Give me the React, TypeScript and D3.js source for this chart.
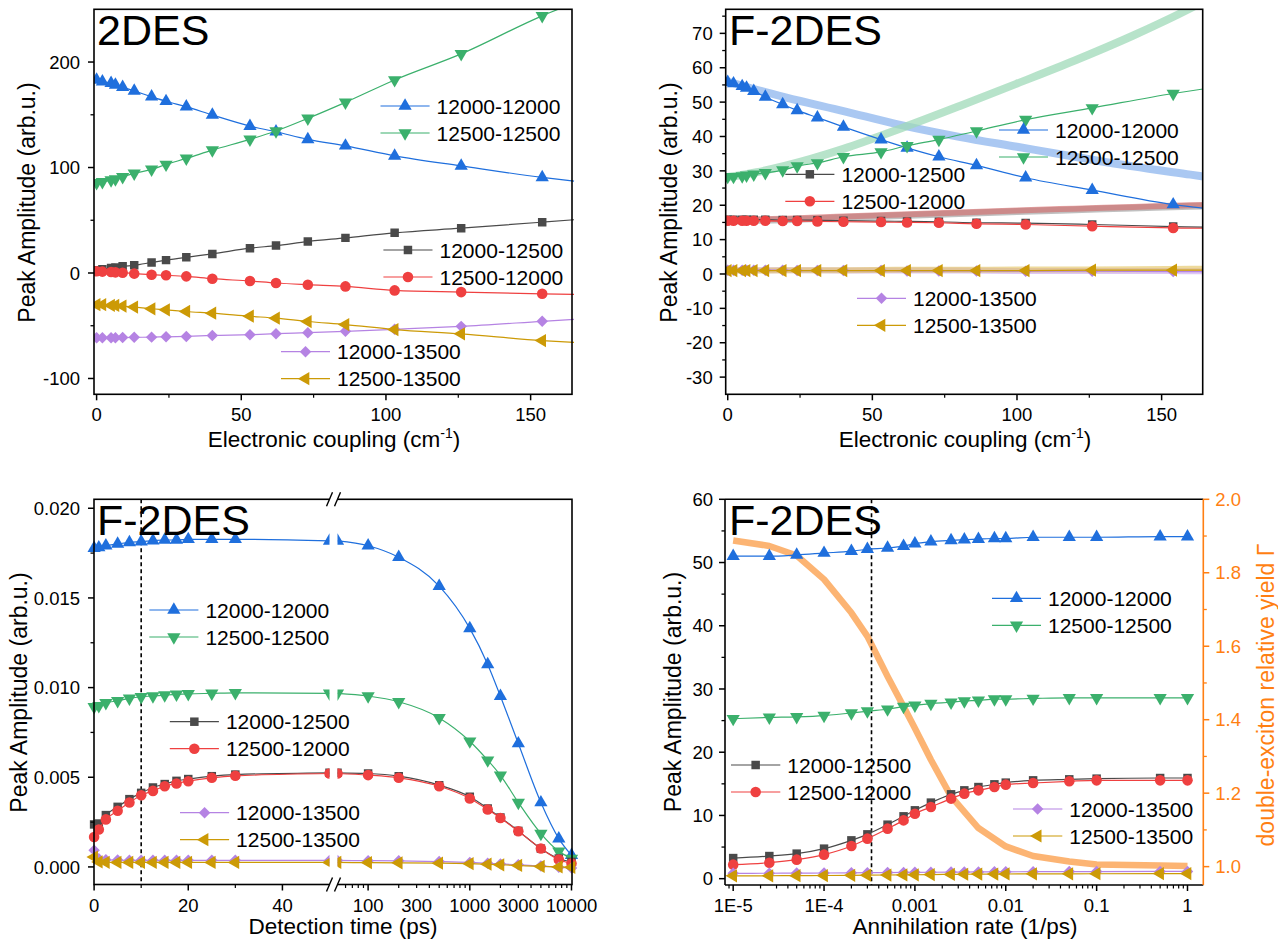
import React from 'react';
import * as d3 from 'd3';

const FONT = '"Liberation Sans", Arial, Helvetica, sans-serif';
const ORANGE = '#ff7f12';

// ---------- top panels: peak amplitude vs electronic coupling ----------
const couplingX = [0, 2, 5, 6.5, 9, 13, 19, 24, 31, 40, 53, 62, 73, 86, 103, 126, 154];
const couplingEdge = 165; // the fitted lines run on to the frame
const couplingLineX = [...couplingX, couplingEdge];

// 2DES (last value = line at frame edge)
const des_12000_12000 = [183, 181.4, 179.9, 178.3, 176.1, 172.6, 167.1, 162.8, 157.7, 149.8, 139.3, 133.9, 126.7, 120.6, 111.1, 101.6, 90.6, 87.1];
const des_12500_12500 = [85.5, 86.4, 88, 89, 91.2, 94.4, 98.2, 102.9, 108.6, 116.5, 126.7, 134.6, 146.6, 161.8, 183, 207.7, 243.8, 256];
const des_12000_12500 = [2.5, 3.5, 4.7, 5.3, 6.3, 7.3, 10.0, 12.2, 14.9, 18.1, 23.5, 26.0, 29.8, 33.3, 38.1, 42.5, 48.2, 50.5];
const des_12500_12000 = [1.6, 1.3, 1.0, 0.6, 0.3, -0.6, -1.6, -2.2, -3.2, -5.4, -7.6, -9.5, -11.1, -12.7, -16.5, -18.1, -19.7, -20.3];
const des_12000_13500 = [-61.4, -61.4, -61.4, -61.4, -61.2, -61.0, -60.8, -60.5, -60.1, -59.2, -58.5, -57.5, -56.6, -55.3, -53.4, -50.6, -45.8, -43.9];
const des_12500_13500 = [-30.1, -30.1, -30.7, -30.7, -31.4, -32.3, -33.9, -34.9, -36.5, -38.1, -41.0, -42.8, -46.0, -48.9, -53.6, -57.7, -64.1, -65.7];

// F-2DES
const fdes_12000_12000 = [55.8, 55.4, 54.6, 54.1, 53.2, 51.5, 49.3, 47.6, 45.5, 42.8, 39.1, 36.7, 34.1, 31.6, 28.0, 24.4, 20.2, 19.1];
const fdes_12500_12500 = [28.3, 28.3, 28.5, 28.7, 29.0, 29.4, 30.2, 31.4, 32.3, 34.1, 35.5, 37.3, 39.1, 41.6, 44.9, 48.3, 52.5, 53.9];
const fdes_12000_12500 = [15.8, 15.8, 15.8, 15.8, 15.8, 15.8, 15.7, 15.7, 15.6, 15.5, 15.4, 15.3, 15.2, 14.9, 14.8, 14.4, 13.8, 13.6];
const fdes_12500_12000 = [15.5, 15.5, 15.5, 15.5, 15.5, 15.5, 15.4, 15.4, 15.3, 15.2, 15.1, 15.0, 14.9, 14.6, 14.4, 13.9, 13.4, 13.3];
const fdes_12000_13500 = [1.1, 1.1, 1.1, 1.1, 1.1, 1.1, 1.1, 1.0, 1.0, 1.0, 1.0, 0.9, 0.9, 0.9, 0.8, 0.8, 0.7, 0.7];
const fdes_12500_13500 = [1.0, 1.0, 1.0, 1.0, 1.0, 1.0, 1.0, 1.0, 1.0, 1.0, 1.0, 1.0, 1.0, 1.0, 1.0, 1.1, 1.1, 1.1];

// broad reference curves in the F-2DES panel
const bandX = [0, 10, 20, 40, 60, 80, 100, 120, 140, 160, 165];
const band_12000_12000 = [56, 53.6, 51.4, 47.4, 43.3, 39.9, 37.0, 34.1, 31.3, 28.9, 28.3];
const band_12500_12500 = [28.2, 29.6, 31.5, 36.4, 42.4, 48.8, 55.4, 62.1, 69.3, 77.3, 79.5];
const band_12000_12500 = [15.4, 15.6, 15.8, 16.4, 17.0, 17.6, 18.2, 18.7, 19.2, 19.7, 19.8];
const band_12500_12000 = [15.7, 15.9, 16.1, 16.7, 17.3, 17.9, 18.5, 19.0, 19.5, 20.0, 20.1];
const band_12000_13500 = [1.1, 1.1, 1.1, 1.0, 1.0, 1.0, 0.9, 0.9, 0.9, 0.8, 0.8];
const band_12500_13500 = [1.0, 1.0, 1.1, 1.1, 1.2, 1.2, 1.3, 1.3, 1.4, 1.5, 1.5];

// ---------- bottom-left: vs detection time ----------
const timeX = [0, 1, 2.5, 5, 7.5, 10, 12.5, 15, 17.5, 20, 25, 30, 50, 100, 200, 500, 1000, 1500, 2000, 3000, 5000, 7500, 10000];
const time_12000_12000 = [0.01777, 0.01781, 0.01791, 0.01801, 0.0181, 0.01814, 0.01819, 0.01823, 0.01823, 0.01827, 0.01827, 0.01827, 0.01818, 0.01791, 0.01727, 0.01566, 0.0133, 0.01129, 0.00952, 0.00688, 0.00359, 0.00158, 0.00065];
const time_12500_12500 = [0.00893, 0.00898, 0.00915, 0.00926, 0.0094, 0.00949, 0.00953, 0.00958, 0.00962, 0.00965, 0.00968, 0.00971, 0.00968, 0.00953, 0.00921, 0.00831, 0.00701, 0.00595, 0.00511, 0.00359, 0.00186, 0.00087, 0.00047];
const time_12000_12500 = [0.00237, 0.00242, 0.00289, 0.00335, 0.00378, 0.00413, 0.00443, 0.00462, 0.0048, 0.0049, 0.00506, 0.00515, 0.00525, 0.00521, 0.00506, 0.00456, 0.00391, 0.00326, 0.00276, 0.00201, 0.00102, 0.00047, 0.00028];
const time_12500_12000 = [0.00167, 0.00209, 0.00265, 0.00313, 0.00359, 0.004, 0.00424, 0.0045, 0.00465, 0.00478, 0.00497, 0.00508, 0.00521, 0.00512, 0.00497, 0.0045, 0.00382, 0.0032, 0.00273, 0.00199, 0.00103, 0.00041, 0.00019];
const time_12000_13500 = [0.00093, 0.00045, 0.0004, 0.00038, 0.00037, 0.00037, 0.00037, 0.00037, 0.00037, 0.00037, 0.00037, 0.00037, 0.00036, 0.00035, 0.00034, 0.0003, 0.00025, 0.0002, 0.00017, 0.00012, 0.00005, -0.00002, -0.00006];
const time_12500_13500 = [0.00055, 0.00028, 0.00026, 0.00025, 0.00025, 0.00025, 0.00025, 0.00025, 0.00025, 0.00025, 0.00025, 0.00025, 0.00025, 0.00024, 0.00023, 0.00021, 0.00018, 0.00015, 0.00012, 0.00008, 0.00003, 0.0, -0.00002];

// ---------- bottom-right: vs annihilation rate ----------
const rateX = [1e-5, 2.5e-5, 5e-5, 1e-4, 2e-4, 3e-4, 5e-4, 7.5e-4, 1e-3, 1.5e-3, 2.5e-3, 3.5e-3, 5e-3, 7.5e-3, 1e-2, 2e-2, 5e-2, 0.1, 0.5, 1];
const rate_12000_12000 = [51.0, 51.0, 51.2, 51.5, 51.8, 52.1, 52.3, 52.6, 53.0, 53.3, 53.5, 53.6, 53.7, 53.8, 53.8, 54.0, 54.0, 54.0, 54.1, 54.1];
const rate_12500_12500 = [25.3, 25.5, 25.6, 25.8, 26.2, 26.5, 26.8, 27.2, 27.4, 27.7, 27.9, 28.1, 28.2, 28.4, 28.4, 28.5, 28.6, 28.6, 28.6, 28.6];
const rate_12000_12500 = [3.26, 3.58, 3.96, 4.75, 6.06, 7.01, 8.54, 9.86, 10.81, 12.03, 13.34, 13.97, 14.49, 14.92, 15.19, 15.55, 15.71, 15.82, 15.92, 15.92];
const rate_12500_12000 = [2.22, 2.53, 3.01, 3.8, 5.16, 6.33, 7.91, 9.22, 10.28, 11.33, 12.66, 13.45, 13.97, 14.49, 14.87, 15.13, 15.4, 15.55, 15.55, 15.55];
const rate_12000_13500 = [0.85, 0.86, 0.88, 0.9, 0.93, 0.95, 0.97, 0.99, 1.0, 1.02, 1.04, 1.05, 1.07, 1.08, 1.09, 1.1, 1.12, 1.13, 1.14, 1.15];
const rate_12500_13500 = [0.45, 0.46, 0.48, 0.5, 0.53, 0.55, 0.58, 0.6, 0.62, 0.65, 0.68, 0.7, 0.72, 0.73, 0.74, 0.76, 0.77, 0.78, 0.8, 0.8];
const yieldRateX = [1e-5, 2.5e-5, 5e-5, 1e-4, 2e-4, 3e-4, 5e-4, 7.5e-4, 1e-3, 1.5e-3, 2.5e-3, 5e-3, 1e-2, 2e-2, 5e-2, 0.1, 0.5, 1];
const yieldGamma = [1.888, 1.873, 1.847, 1.782, 1.691, 1.627, 1.518, 1.436, 1.377, 1.291, 1.191, 1.105, 1.055, 1.029, 1.014, 1.006, 1.003, 1.002];

const peaks = ['12000-12000', '12500-12500', '12000-12500', '12500-12000', '12000-13500', '12500-13500'];

const STYLE: Record<string, { color: string; kind: string }> = {
  '12000-12000': { color: '#1f6fdd', kind: 'up' },
  '12500-12500': { color: '#3bb06c', kind: 'down' },
  '12000-12500': { color: '#4a4a4a', kind: 'square' },
  '12500-12000': { color: '#ef4040', kind: 'circle' },
  '12000-13500': { color: '#b583e3', kind: 'diamond' },
  '12500-13500': { color: '#cc9a06', kind: 'left' },
};

const SYM: Record<string, { d: string; rot: number }> = {
  up: { d: d3.symbol(d3.symbolTriangle, 76)() as string, rot: 0 },
  down: { d: d3.symbol(d3.symbolTriangle, 76)() as string, rot: 180 },
  left: { d: d3.symbol(d3.symbolTriangle, 76)() as string, rot: -90 },
  square: { d: d3.symbol(d3.symbolSquare, 72)() as string, rot: 0 },
  circle: { d: d3.symbol(d3.symbolCircle, 88)() as string, rot: 0 },
  diamond: { d: d3.symbol(d3.symbolSquare, 66)() as string, rot: 45 },
};

function Marker({ x, y, peak }: any) {
  const s = STYLE[peak];
  const m = SYM[s.kind];
  return <path d={m.d} transform={`translate(${x},${y}) rotate(${m.rot})`} fill={s.color} />;
}

function Series({ xs, ys, x, y, peak, nMarks, clip }: any) {
  const pts: [number, number][] = xs.map((v: number, i: number) => [x(v), y(ys[i])]);
  const d = d3.line().curve(d3.curveMonotoneX)(pts) as string;
  const n = nMarks ?? pts.length;
  return (
    <g clipPath={clip}>
      <path d={d} fill="none" stroke={STYLE[peak].color} strokeWidth={1.2} />
      {pts.slice(0, n).map(([px, py], i) => <Marker key={i} x={px} y={py} peak={peak} />)}
    </g>
  );
}

function Legend({ x1, x2, y, rows }: any) {
  return (
    <g>
      {rows.map((p: string, i: number) => {
        const yy = y + i * 27;
        return (
          <g key={p}>
            <line x1={x1} x2={x2} y1={yy} y2={yy} stroke={STYLE[p].color} strokeWidth={1.2} />
            <Marker x={(x1 + x2) / 2} y={yy} peak={p} />
            <text x={x2 + 7} y={yy} dy="0.36em" fontSize={21}>{p}</text>
          </g>
        );
      })}
    </g>
  );
}

function LeftAxis({ scale, x, major, minor, fmt, color = '#000', gap = 13 }: any) {
  return (
    <g>
      {major.map((v: number) => (
        <g key={'M' + v}>
          <line x1={x - 6} x2={x} y1={scale(v)} y2={scale(v)} stroke={color} strokeWidth={1.5} />
          <text x={x - gap} y={scale(v)} dy="0.36em" textAnchor="end" fontSize={18.5} fill={color}>{fmt(v)}</text>
        </g>
      ))}
      {minor.map((v: number) => <line key={'m' + v} x1={x - 3.5} x2={x} y1={scale(v)} y2={scale(v)} stroke={color} strokeWidth={1.3} />)}
    </g>
  );
}

function RightAxis({ scale, x, major, minor, fmt, color }: any) {
  return (
    <g>
      {major.map((v: number) => (
        <g key={'M' + v}>
          <line x1={x} x2={x + 6} y1={scale(v)} y2={scale(v)} stroke={color} strokeWidth={1.5} />
          <text x={x + 12} y={scale(v)} dy="0.36em" fontSize={18.5} fill={color}>{fmt(v)}</text>
        </g>
      ))}
      {minor.map((v: number) => <line key={'m' + v} x1={x} x2={x + 3.5} y1={scale(v)} y2={scale(v)} stroke={color} strokeWidth={1.3} />)}
    </g>
  );
}

function BottomAxis({ scale, y, major, minor, labels, fmt }: any) {
  return (
    <g>
      {major.map((v: number) => <line key={'M' + v} x1={scale(v)} x2={scale(v)} y1={y} y2={y + 6} stroke="#000" strokeWidth={1.5} />)}
      {minor.map((v: number) => <line key={'m' + v} x1={scale(v)} x2={scale(v)} y1={y} y2={y + 3.5} stroke="#000" strokeWidth={1.2} />)}
      {labels.map((v: number) => (
        <text key={'L' + v} x={scale(v)} y={y + 27} textAnchor="middle" fontSize={18.5}>{fmt(v)}</text>
      ))}
    </g>
  );
}

function YTitle({ x, y, children, color = '#000' }: any) {
  return (
    <text transform={`translate(${x},${y}) rotate(-90)`} textAnchor="middle" dy="0.36em" fontSize={23} fill={color}>{children}</text>
  );
}

function CouplingTitle({ x }: any) {
  return (
    <text x={x} y={447} textAnchor="middle" fontSize={22.5}>
      Electronic coupling (cm<tspan dy={-9} fontSize={14}>-1</tspan><tspan dy={9}>)</tspan>
    </text>
  );
}

const box = (l: number, t: number, r: number, b: number) => ({ l, t, r, b });

function Panel1() {
  const f = box(94, 9.3, 572, 394.3);
  const x = d3.scaleLinear().domain([-0.9, 164.3]).range([f.l, f.r]);
  const y = d3.scaleLinear().domain([-115, 250]).range([f.b, f.t]);
  const data = [des_12000_12000, des_12500_12500, des_12000_12500, des_12500_12000, des_12000_13500, des_12500_13500];
  return (
    <g>
      <clipPath id="c1"><rect x={f.l} y={f.t} width={f.r - f.l + 8} height={f.b - f.t} /></clipPath>
      {data.map((ys, i) => (
        <Series key={i} xs={couplingLineX} ys={ys} x={x} y={y} peak={peaks[i]} nMarks={couplingX.length} clip="url(#c1)" />
      ))}
      <rect x={f.l} y={f.t} width={f.r - f.l} height={f.b - f.t} fill="none" stroke="#000" strokeWidth={1.6} />
      <LeftAxis scale={y} x={f.l} major={[-100, 0, 100, 200]} minor={[-50, 50, 150]} fmt={(v: number) => String(v)} gap={14} />
      <BottomAxis scale={x} y={f.b} major={[0, 50, 100, 150]} minor={[25, 75, 125]} labels={[0, 50, 100, 150]} fmt={(v: number) => String(v)} />
      <Legend x1={380.5} x2={429.6} y={106} rows={peaks.slice(0, 2)} />
      <Legend x1={383.4} x2={432.5} y={250} rows={peaks.slice(2, 4)} />
      <Legend x1={281} x2={330} y={351.7} rows={peaks.slice(4, 6)} />
      <text x={97} y={44.5} fontSize={43}>2DES</text>
      <YTitle x={27} y={202.5}>Peak Amplitude (arb.u.)</YTitle>
      <CouplingTitle x={334} />
    </g>
  );
}

function Panel2() {
  const f = box(725.7, 9.3, 1202.7, 394.3);
  const x = d3.scaleLinear().domain([-0.7, 164.2]).range([f.l, f.r]);
  const y = d3.scaleLinear().domain([-35, 77]).range([f.b, f.t]);
  const data = [fdes_12000_12000, fdes_12500_12500, fdes_12000_12500, fdes_12500_12000, fdes_12000_13500, fdes_12500_13500];
  const band = d3.line().curve(d3.curveMonotoneX);
  const bands = [
    { ys: band_12000_13500, c: '#c9a3ef', w: 6, o: 0.6 },
    { ys: band_12500_13500, c: '#e3c25a', w: 6, o: 0.6 },
    { ys: band_12000_12500, c: '#8c8c8c', w: 7, o: 0.55 },
    { ys: band_12500_12000, c: '#d65c5c', w: 6, o: 0.55 },
    { ys: band_12000_12000, c: '#8db6ee', w: 8, o: 0.75 },
    { ys: band_12500_12500, c: '#9fdab8', w: 8, o: 0.75 },
  ];
  return (
    <g>
      <clipPath id="c2"><rect x={f.l} y={f.t} width={f.r - f.l} height={f.b - f.t} /></clipPath>
      <g clipPath="url(#c2)">
        {bands.map((b, i) => (
          <path key={i} d={band(bandX.map((v, j) => [x(v), y(b.ys[j])]) as any) as string} fill="none" stroke={b.c} strokeOpacity={b.o} strokeWidth={b.w} />
        ))}
      </g>
      {data.map((ys, i) => (
        <Series key={i} xs={couplingLineX} ys={ys} x={x} y={y} peak={peaks[i]} nMarks={couplingX.length} clip="url(#c2)" />
      ))}
      <rect x={f.l} y={f.t} width={f.r - f.l} height={f.b - f.t} fill="none" stroke="#000" strokeWidth={1.6} />
      <LeftAxis scale={y} x={f.l} major={d3.range(-30, 71, 10)} minor={d3.range(-25, 76, 10)} fmt={(v: number) => String(v)} />
      <BottomAxis scale={x} y={f.b} major={[0, 50, 100, 150]} minor={[25, 75, 125]} labels={[0, 50, 100, 150]} fmt={(v: number) => String(v)} />
      <Legend x1={999} x2={1048} y={130} rows={peaks.slice(0, 2)} />
      <Legend x1={785.3} x2={834.4} y={174.3} rows={peaks.slice(2, 4)} />
      <Legend x1={857} x2={906} y={298.3} rows={peaks.slice(4, 6)} />
      <text x={729} y={44.5} fontSize={43}>F-2DES</text>
      <YTitle x={669} y={202.5}>Peak Amplitude (arb.u.)</YTitle>
      <CouplingTitle x={965} />
    </g>
  );
}

function Panel3() {
  const f = box(94, 499.3, 572, 884.5);
  const breakL = 329.5;
  const breakR = 337.5;
  const x1 = d3.scaleLinear().domain([0, 50]).range([94.1, breakL]);
  const x2 = d3.scaleLog().domain([50, 10000]).range([breakR, 571.5]);
  const y = d3.scaleLinear().domain([-0.00098, 0.0205]).range([f.b, f.t]);
  const data = [time_12000_12000, time_12500_12500, time_12000_12500, time_12500_12000, time_12000_13500, time_12500_13500];
  const i1 = timeX.map((t, i) => i).filter((i) => timeX[i] <= 50);
  const i2 = timeX.map((t, i) => i).filter((i) => timeX[i] >= 50);
  const logMinor = [60, 70, 80, 90, 200, 300, 400, 500, 600, 700, 800, 900, 2000, 3000, 4000, 5000, 6000, 7000, 8000, 9000];
  const slash = (cx: number, cy: number) => (
    <g key={cx + '-' + cy}>
      <rect x={breakL} y={cy - 3} width={breakR - breakL} height={6} fill="#fff" />
      <line x1={cx - 7} y1={cy + 7} x2={cx - 1} y2={cy - 7} stroke="#000" strokeWidth={1.4} />
      <line x1={cx + 1} y1={cy + 7} x2={cx + 7} y2={cy - 7} stroke="#000" strokeWidth={1.4} />
    </g>
  );
  return (
    <g>
      <clipPath id="c3a"><rect x={0} y={0} width={breakL} height={941} /></clipPath>
      <clipPath id="c3b"><rect x={breakR} y={0} width={700} height={941} /></clipPath>
      <line x1={x1(10)} x2={x1(10)} y1={f.t} y2={f.b} stroke="#000" strokeWidth={1.6} strokeDasharray="4,3" />
      {data.map((ys, k) => (
        <g key={k}>
          <Series xs={i1.map((i) => timeX[i])} ys={i1.map((i) => ys[i])} x={x1} y={y} peak={peaks[k]} clip="url(#c3a)" />
          <Series xs={i2.map((i) => timeX[i])} ys={i2.map((i) => ys[i])} x={x2} y={y} peak={peaks[k]} clip="url(#c3b)" />
        </g>
      ))}
      <rect x={f.l} y={f.t} width={f.r - f.l} height={f.b - f.t} fill="none" stroke="#000" strokeWidth={1.6} />
      <LeftAxis scale={y} x={f.l} major={[0, 0.005, 0.01, 0.015, 0.02]} minor={[0.0025, 0.0075, 0.0125, 0.0175]} fmt={d3.format('.3f')} gap={14} />
      <BottomAxis scale={x1} y={f.b} major={[0, 20, 40]} minor={[10, 30]} labels={[0, 20, 40]} fmt={(v: number) => String(v)} />
      <BottomAxis scale={x2} y={f.b} major={[100, 1000, 10000]} minor={logMinor} labels={[100, 300, 1000, 3000, 10000]} fmt={(v: number) => String(v)} />
      {slash((breakL + breakR) / 2, f.t)}
      {slash((breakL + breakR) / 2, f.b)}
      <Legend x1={149.3} x2={198.4} y={610} rows={peaks.slice(0, 2)} />
      <Legend x1={169.8} x2={218.9} y={721.7} rows={peaks.slice(2, 4)} />
      <Legend x1={180} x2={229.1} y={812.7} rows={peaks.slice(4, 6)} />
      <text x={97} y={535} fontSize={43}>F-2DES</text>
      <YTitle x={19} y={692.5}>Peak Amplitude (arb.u.)</YTitle>
      <text x={343} y={934} textAnchor="middle" fontSize={22.5}>Detection time (ps)</text>
    </g>
  );
}

function Panel4() {
  const f = box(725, 499.3, 1203.3, 885);
  const x = d3.scaleLog().domain([10 ** -5.09, 10 ** 0.174]).range([f.l, f.r]);
  const y = d3.scaleLinear().domain([-1, 60]).range([f.b, f.t]);
  const yr = d3.scaleLinear().domain([0.95, 2.0]).range([f.b, f.t]);
  const data = [rate_12000_12000, rate_12500_12500, rate_12000_12500, rate_12500_12000, rate_12000_13500, rate_12500_13500];
  const decades = [1e-5, 1e-4, 1e-3, 1e-2, 1e-1, 1];
  const minor: number[] = [];
  [1e-6, ...decades].forEach((d) => d3.range(2, 10).forEach((m) => {
    const v = d * m;
    if (v > x.domain()[0] && v < x.domain()[1]) minor.push(v);
  }));
  const fmtRate = (v: number) => (v < 1e-3 ? '1E' + Math.round(Math.log10(v)) : String(v));
  const yieldLine = d3.line()(yieldRateX.map((v, i) => [x(v), yr(yieldGamma[i])])) as string;
  return (
    <g>
      <path d={yieldLine} fill="none" stroke="#fca75a" strokeOpacity={0.85} strokeWidth={6.5} strokeLinejoin="round" />
      <line x1={x(3.33e-4)} x2={x(3.33e-4)} y1={f.t} y2={f.b} stroke="#000" strokeWidth={1.6} strokeDasharray="4,3" />
      {data.map((ys, i) => (
        <Series key={i} xs={rateX} ys={ys} x={x} y={y} peak={peaks[i]} />
      ))}
      <line x1={f.l} x2={f.r} y1={f.t} y2={f.t} stroke="#000" strokeWidth={1.6} />
      <line x1={f.l} x2={f.r} y1={f.b} y2={f.b} stroke="#000" strokeWidth={1.6} />
      <line x1={f.l} x2={f.l} y1={f.t} y2={f.b} stroke="#000" strokeWidth={1.6} />
      <line x1={f.r} x2={f.r} y1={f.t} y2={f.b} stroke={ORANGE} strokeWidth={1.6} />
      <LeftAxis scale={y} x={f.l} major={d3.range(0, 61, 10)} minor={d3.range(5, 56, 10)} fmt={(v: number) => String(v)} gap={12} />
      <RightAxis scale={yr} x={f.r} major={[1.0, 1.2, 1.4, 1.6, 1.8, 2.0]} minor={[1.1, 1.3, 1.5, 1.7, 1.9]} fmt={d3.format('.1f')} color={ORANGE} />
      <BottomAxis scale={x} y={f.b} major={decades} minor={minor} labels={decades} fmt={fmtRate} />
      <Legend x1={992} x2={1041} y={598.3} rows={peaks.slice(0, 2)} />
      <Legend x1={731} x2={780.3} y={765} rows={peaks.slice(2, 4)} />
      <Legend x1={1013} x2={1062.3} y={809} rows={peaks.slice(4, 6)} />
      <text x={729} y={535} fontSize={43}>F-2DES</text>
      <YTitle x={673} y={692}>Peak Amplitude (arb.u.)</YTitle>
      <YTitle x={1266} y={695} color={ORANGE}>double-exciton relative yield Γ</YTitle>
      <text x={965} y={934} textAnchor="middle" fontSize={22.5}>Annihilation rate (1/ps)</text>
    </g>
  );
}

export default function App() {
  return (
    <svg width={1278} height={941} style={{ position: 'absolute', left: 0, top: 0, background: '#fff' }} fontFamily={FONT}>
      <Panel1 />
      <Panel2 />
      <Panel3 />
      <Panel4 />
    </svg>
  );
}
